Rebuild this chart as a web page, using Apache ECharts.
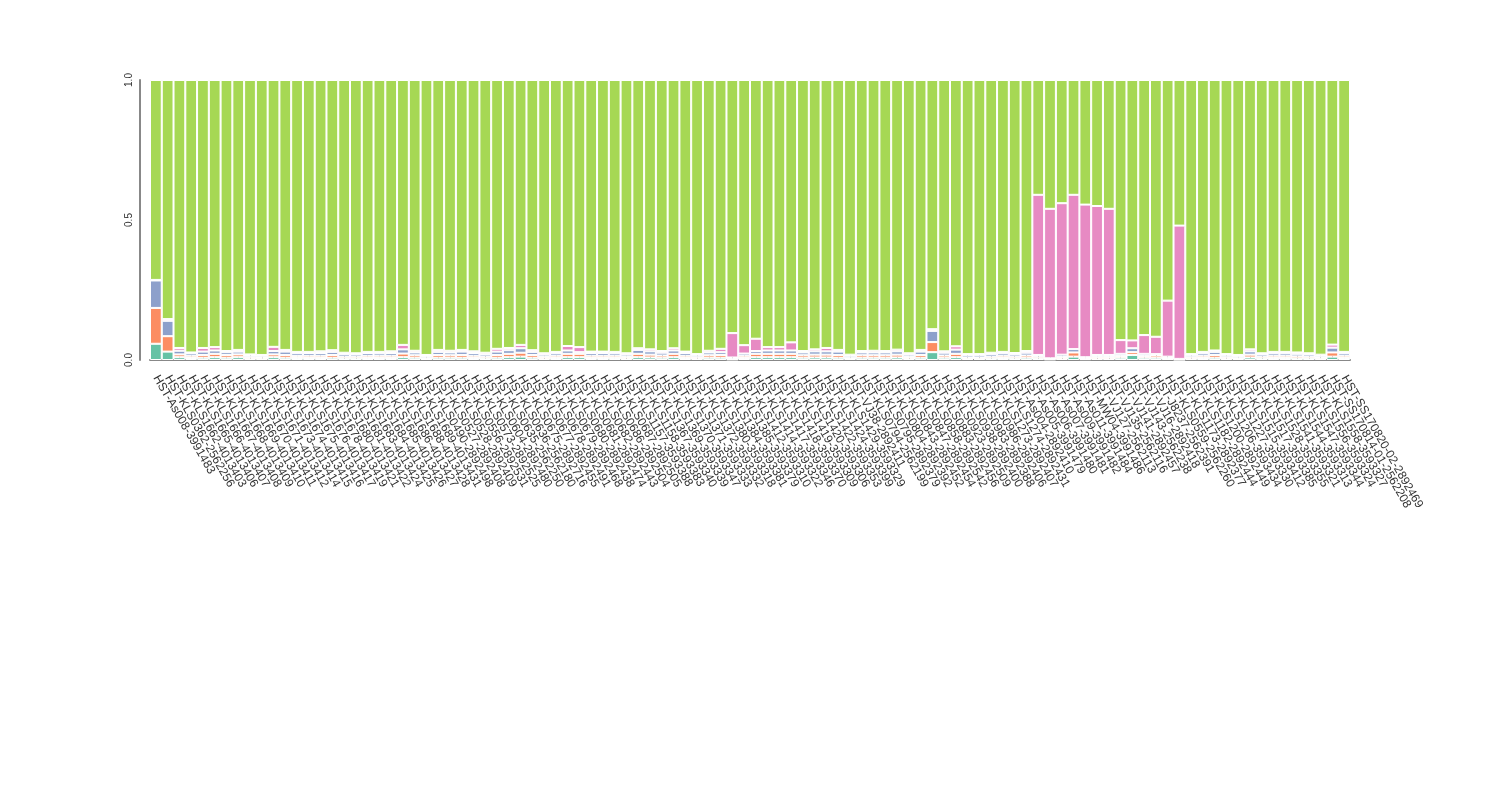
<!DOCTYPE html>
<html>
<head>
<meta charset="utf-8">
<script src="https://cdn.jsdelivr.net/npm/echarts@6/dist/echarts.min.js"></script>
<style>html,body{margin:0;padding:0;background:#fff;}#chart{width:1500px;height:800px;}</style>
</head>
<body>
<div id="chart"></div>
<script>
const categories = [
"HST-As008-3991483","HST-KLS0362-2562256","HST-KLS1662-4013403","HST-KLS1665-4013406","HST-KLS1666-4013407",
"HST-KLS1667-4013408","HST-KLS1668-4013409","HST-KLS1669-4013410","HST-KLS1670-4013411","HST-KLS1671-4013412",
"HST-KLS1673-4013414","HST-KLS1674-4013415","HST-KLS1675-4013416","HST-KLS1676-4013417","HST-KLS1678-4013419",
"HST-KLS1680-4013421","HST-KLS1681-4013422","HST-KLS1683-4013424","HST-KLS1684-4013425","HST-KLS1685-4013426",
"HST-KLS1686-4013427","HST-KLS1688-4013428","HST-KLS1689-4013431","HST-KLS0490-2892498","HST-KLS0527-2892408",
"HST-KLS0528-2892409","HST-KLS0556-2892531","HST-KLS0573-2892525","HST-KLS0604-2892480","HST-KLS0635-2562250",
"HST-KLS0636-2562180","HST-KLS0675-2892716","HST-KLS0677-2892455","HST-KLS0678-2892491","HST-KLS0679-2892468",
"HST-KLS0680-2892438","HST-KLS0681-2892474","HST-KLS0682-2892443","HST-KLS0686-2892504","HST-KLS0687-2892505",
"HST-KLS1157-3593388","HST-KLS1158-3593383","HST-KLS1367-3593340","HST-KLS1369-3593339","HST-KLS1370-3593347",
"HST-KLS1371-3593333","HST-KLS1372-3593332","HST-KLS1380-3593318","HST-KLS1384-3593381","HST-KLS1385-3593379",
"HST-KLS1412-3593310","HST-KLS1414-3593322","HST-KLS1417-3593346","HST-KLS1418-3593370","HST-KLS1419-3593309",
"HST-KLS1420-3593306","HST-KLS1422-3593353","HST-KLS1424-3593399","HST-KLS1429-3593329","HST-VJ38-2892411",
"HST-KLS0794-2562199","HST-KLS0795-2892379","HST-KLS0804-2892392","HST-KLS0843-2892452","HST-KLS0847-2892454",
"HST-KLS0858-2892542","HST-KLS0883-2892456","HST-KLS0923-2892509","HST-KLS0938-2892400","HST-KLS0983-2892388",
"HST-KLS0986-2892406","HST-KLS1273-2892407","HST-KLS1274-2892431","HST-As004-2892410","HST-As005-3991479",
"HST-As006-3991480","HST-As007-3991481","HST-As009-3991482","HST-As011-3991484","HST-MW04-3991486",
"HST-VJ127-2562113","HST-VJ135-2562116","HST-VJ141-2892457","HST-VJ143-2562238","HST-VJ16-2892418",
"HST-J8237-2562391","HST-KLS0559-2562260","HST-KLS1173-2892377","HST-KLS1182-2892444","HST-KLS1200-2892449",
"HST-KLS1206-3593434","HST-KLS1227-3593330","HST-KLS1515-3593412","HST-KLS1517-3593385","HST-KLS1528-3593355",
"HST-KLS1541-3593321","HST-KLS1544-3593313","HST-KLS1547-3593344","HST-KLS1556-3593324","HST-KLS1558-3593327",
"HST-SS170814-01-2562208","HST-SS170820-02-2892469"
];

const teal = [
0.058,0.030,0.010,0.007,0.008,0.010,0.008,0.010,0.005,0.005,
0.010,0.008,0.007,0.007,0.007,0.008,0.006,0.006,0.007,0.007,
0.007,0.010,0.008,0.004,0.008,0.008,0.008,0.007,0.006,0.008,
0.010,0.012,0.008,0.005,0.007,0.010,0.010,0.007,0.007,0.007,
0.005,0.010,0.009,0.008,0.010,0.007,0.005,0.008,0.008,0.002,
0.007,0.010,0.010,0.010,0.010,0.008,0.009,0.009,0.008,0.004,
0.008,0.008,0.008,0.009,0.005,0.008,0.028,0.008,0.010,0.004,
0.004,0.006,0.007,0.006,0.008,0.006,0.002,0.005,0.012,0.003,
0.005,0.005,0.008,0.018,0.008,0.008,0.004,0.001,0.005,0.007,
0.008,0.005,0.004,0.009,0.006,0.007,0.007,0.006,0.006,0.004,
0.012,0.007
];
const orange = [
0.128,0.055,0.010,0.008,0.010,0.012,0.010,0.010,0.005,0.004,
0.010,0.010,0.007,0.008,0.008,0.010,0.006,0.006,0.008,0.008,
0.008,0.013,0.009,0.004,0.010,0.009,0.010,0.008,0.006,0.010,
0.012,0.014,0.010,0.006,0.008,0.012,0.012,0.008,0.008,0.008,
0.006,0.012,0.010,0.008,0.012,0.008,0.005,0.009,0.010,0.003,
0.008,0.012,0.012,0.012,0.012,0.009,0.010,0.010,0.010,0.004,
0.009,0.009,0.009,0.010,0.006,0.010,0.036,0.008,0.012,0.005,
0.005,0.006,0.008,0.006,0.008,0.006,0.002,0.006,0.015,0.003,
0.006,0.006,0.006,0.010,0.006,0.008,0.004,0.001,0.005,0.008,
0.010,0.005,0.004,0.010,0.006,0.008,0.008,0.007,0.006,0.005,
0.015,0.008
];
const blue = [
0.098,0.055,0.013,0.009,0.012,0.012,0.010,0.010,0.006,0.006,
0.012,0.012,0.010,0.010,0.010,0.011,0.009,0.008,0.010,0.009,
0.010,0.015,0.010,0.006,0.011,0.010,0.012,0.010,0.008,0.012,
0.013,0.016,0.011,0.008,0.009,0.012,0.006,0.010,0.010,0.009,
0.008,0.014,0.012,0.010,0.012,0.010,0.007,0.010,0.010,0.004,
0.008,0.010,0.012,0.012,0.012,0.010,0.012,0.012,0.012,0.007,
0.010,0.010,0.010,0.012,0.008,0.012,0.040,0.010,0.015,0.008,
0.008,0.009,0.009,0.008,0.010,0.006,0.002,0.008,0.012,0.004,
0.007,0.007,0.008,0.014,0.008,0.005,0.004,0.002,0.007,0.009,
0.011,0.007,0.006,0.012,0.008,0.009,0.009,0.009,0.008,0.006,
0.017,0.009
];
const pink = [
0.002,0.006,0.010,0.003,0.013,0.012,0.004,0.006,0.004,0.003,
0.015,0.006,0.005,0.004,0.006,0.006,0.005,0.004,0.004,0.005,
0.006,0.016,0.006,0.004,0.007,0.006,0.006,0.006,0.006,0.010,
0.008,0.012,0.006,0.005,0.005,0.016,0.018,0.005,0.005,0.005,
0.005,0.006,0.007,0.006,0.008,0.005,0.004,0.006,0.012,0.087,
0.030,0.044,0.012,0.012,0.029,0.005,0.007,0.012,0.006,0.004,
0.005,0.006,0.005,0.006,0.005,0.006,0.006,0.005,0.012,0.004,
0.004,0.005,0.005,0.005,0.006,0.572,0.534,0.541,0.551,0.545,
0.532,0.522,0.049,0.028,0.067,0.062,0.200,0.476,0.004,0.005,
0.005,0.004,0.004,0.007,0.004,0.005,0.005,0.005,0.004,0.004,
0.011,0.005
];
const green = [
0.714,0.854,0.957,0.973,0.957,0.954,0.968,0.964,0.980,0.982,
0.953,0.964,0.971,0.971,0.969,0.965,0.974,0.976,0.971,0.971,
0.969,0.946,0.967,0.982,0.964,0.967,0.964,0.969,0.974,0.960,
0.957,0.946,0.965,0.976,0.971,0.950,0.954,0.970,0.970,0.971,
0.976,0.958,0.962,0.968,0.958,0.970,0.979,0.967,0.960,0.904,
0.947,0.924,0.954,0.954,0.937,0.968,0.962,0.957,0.964,0.981,
0.968,0.967,0.968,0.963,0.976,0.964,0.890,0.969,0.951,0.979,
0.979,0.974,0.971,0.975,0.968,0.410,0.460,0.440,0.410,0.445,
0.450,0.460,0.929,0.930,0.911,0.917,0.788,0.520,0.979,0.971,
0.966,0.979,0.982,0.962,0.976,0.971,0.971,0.973,0.976,0.981,
0.945,0.971
];
const yTicks = [0, 0.5, 1];

const seriesDefs = [
  {name: 'S1', data: teal, color: '#66c2a5'},
  {name: 'S2', data: orange, color: '#fc8d62'},
  {name: 'S3', data: blue, color: '#8da0cb'},
  {name: 'S4', data: pink, color: '#e78ac3'},
  {name: 'S5', data: green, color: '#a6d854'}
];

const chart = echarts.init(document.getElementById('chart'), null, {renderer: 'canvas'});
chart.setOption({
  animation: false,
  backgroundColor: '#fff',
  grid: {left: 150, right: 150, top: 80, bottom: 440, containLabel: false},
  xAxis: {
    type: 'category',
    data: categories,
    offset: 10,
    axisLine: {show: true, lineStyle: {color: '#888', width: 2}},
    axisTick: {show: true, inside: true, length: 5, alignWithLabel: true, lineStyle: {color: '#444', width: 1}},
    axisLabel: {interval: 0, rotate: -60, fontSize: 12, color: '#333', fontFamily: 'Liberation Sans, Arial, sans-serif', margin: 6}
  },
  yAxis: {
    type: 'value',
    min: yTicks[0], max: yTicks[yTicks.length - 1], interval: 0.5,
    offset: 10,
    splitLine: {show: false},
    axisLine: {show: true, lineStyle: {color: '#888', width: 2}},
    axisTick: {show: false},
    axisLabel: {rotate: 90, fontSize: 10, color: '#333', margin: 6, fontFamily: 'Liberation Sans, Arial, sans-serif',
      formatter: v => v.toFixed(1)}
  },
  series: seriesDefs.map(s => ({
    name: s.name,
    type: 'bar',
    stack: 'total',
    data: s.data,
    barCategoryGap: '0%',
    itemStyle: {color: s.color, borderColor: '#fff', borderWidth: 1}
  }))
});
</script>
</body>
</html>
